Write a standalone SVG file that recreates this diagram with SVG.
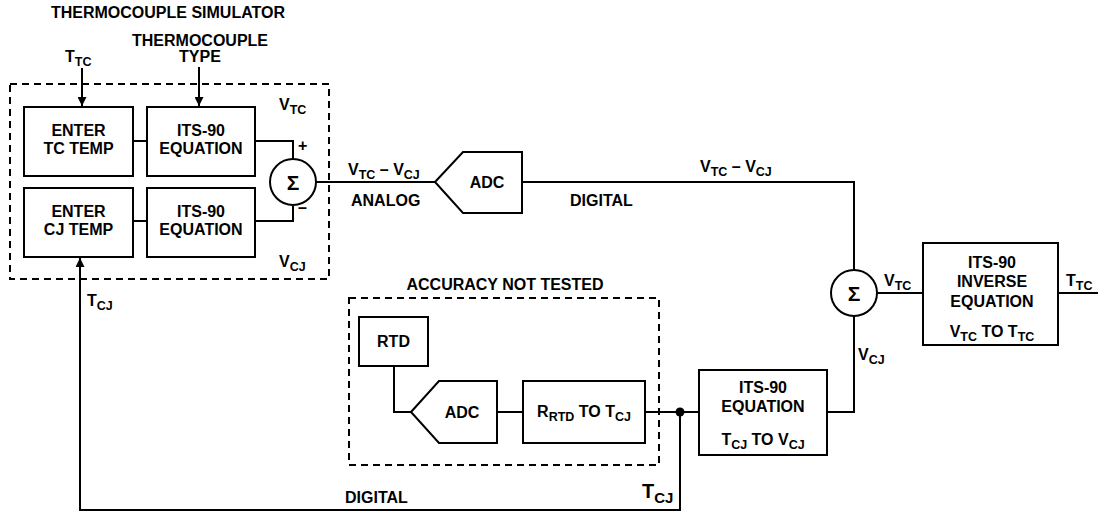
<svg xmlns="http://www.w3.org/2000/svg" width="1098" height="513" viewBox="0 0 1098 513">
<style>
text{font-family:"Liberation Sans",Arial,sans-serif;font-weight:bold;font-size:16px;fill:#000}
.c{text-anchor:middle}
.s{font-size:12.5px}
.box{fill:#fff;stroke:#000;stroke-width:2}
.dash{fill:none;stroke:#000;stroke-width:2;stroke-dasharray:7 5}
.w{fill:none;stroke:#000;stroke-width:2}
.sig{font-size:21px}
</style>
<defs>
<marker id="ah" viewBox="0 0 10 10" refX="10" refY="5" markerWidth="10" markerHeight="9" markerUnits="userSpaceOnUse" orient="auto">
<path d="M0,0 L10,5 L0,10 z" fill="#000"/>
</marker>
</defs>

<g id="connectors">
<path class="w" d="M82,68 V106" marker-end="url(#ah)"/>
<path class="w" d="M199,67 V106" marker-end="url(#ah)"/>
<path class="w" d="M133,141 H147"/>
<path class="w" d="M133,221 H147"/>
<path class="w" d="M255,141 H293 V160"/>
<path class="w" d="M255,221 H293 V206"/>
<path class="w" d="M316,182 H435"/>
<path class="w" d="M522,182 H854 V270"/>
<path class="w" d="M877,293 H923"/>
<path class="w" d="M1058,293 H1098"/>
<path class="w" d="M854,316 V412 H827"/>
<path class="w" d="M394,366 V412 H411"/>
<path class="w" d="M497,412 H523"/>
<path class="w" d="M645,412 H699"/>
<path class="w" d="M680,412 V510 H80 V258" marker-end="url(#ah)"/>
<circle cx="680" cy="412" r="4.5" fill="#000"/>
</g>

<g id="sim-frame">
<rect class="dash" x="10" y="84" width="319" height="195"/>
<text class="c" x="168" y="18">THERMOCOUPLE SIMULATOR</text>
<text class="c" x="200" y="46">THERMOCOUPLE</text>
<text class="c" x="200" y="62">TYPE</text>
<text x="65" y="62">T<tspan class="s" dy="4">TC</tspan></text>
<text x="279" y="110">V<tspan class="s" dy="4">TC</tspan></text>
<text x="279" y="267">V<tspan class="s" dy="4">CJ</tspan></text>
<text x="298" y="151">+</text>
<text x="298" y="213">–</text>
</g>

<g id="enter-tc">
<rect class="box" x="24" y="107" width="109" height="69"/>
<text class="c" x="78.5" y="136">ENTER</text>
<text class="c" x="78.5" y="154">TC TEMP</text>
</g>
<g id="its90-tc">
<rect class="box" x="147" y="107" width="108" height="69"/>
<text class="c" x="201" y="136">ITS-90</text>
<text class="c" x="201" y="154">EQUATION</text>
</g>
<g id="enter-cj">
<rect class="box" x="24" y="188" width="109" height="69"/>
<text class="c" x="78.5" y="217">ENTER</text>
<text class="c" x="78.5" y="235">CJ TEMP</text>
</g>
<g id="its90-cj">
<rect class="box" x="147" y="188" width="108" height="69"/>
<text class="c" x="201" y="217">ITS-90</text>
<text class="c" x="201" y="235">EQUATION</text>
</g>
<g id="sum1">
<circle class="box" cx="293" cy="182" r="23"/>
<text class="c sig" x="293" y="190">Σ</text>
</g>

<g id="labels-analog">
<text x="348" y="175">V<tspan class="s" dy="4">TC</tspan><tspan dy="-4"> – V</tspan><tspan class="s" dy="4">CJ</tspan></text>
<text x="351" y="206">ANALOG</text>
<text x="570" y="206">DIGITAL</text>
<text x="700" y="172">V<tspan class="s" dy="4">TC</tspan><tspan dy="-4"> – V</tspan><tspan class="s" dy="4">CJ</tspan></text>
</g>

<g id="adc1">
<polygon class="box" points="435,182 463,152 522,152 522,213 463,213"/>
<text class="c" x="487" y="188">ADC</text>
</g>

<g id="sum2">
<circle class="box" cx="854" cy="293" r="23"/>
<text class="c sig" x="854" y="301">Σ</text>
<text x="884" y="286">V<tspan class="s" dy="4">TC</tspan></text>
<text x="858" y="360">V<tspan class="s" dy="4">CJ</tspan></text>
</g>

<g id="inverse">
<rect class="box" x="923" y="243" width="135" height="102"/>
<text class="c" x="992" y="268">ITS-90</text>
<text class="c" x="992" y="287">INVERSE</text>
<text class="c" x="992" y="307">EQUATION</text>
<text class="c" x="992" y="337">V<tspan class="s" dy="4">TC</tspan><tspan dy="-4"> TO T</tspan><tspan class="s" dy="4">TC</tspan></text>
<text x="1066" y="286">T<tspan class="s" dy="4">TC</tspan></text>
</g>

<g id="accuracy-frame">
<rect class="dash" x="349" y="298" width="310" height="167"/>
<text class="c" x="505" y="290">ACCURACY NOT TESTED</text>
</g>
<g id="rtd">
<rect class="box" x="359" y="317" width="69" height="49"/>
<text class="c" x="393.5" y="347">RTD</text>
</g>
<g id="adc2">
<polygon class="box" points="411,412 439,381 497,381 497,443 439,443"/>
<text class="c" x="462" y="418">ADC</text>
</g>
<g id="rrtd">
<rect class="box" x="523" y="381" width="122" height="62"/>
<text class="c" x="584" y="417">R<tspan class="s" dy="4">RTD</tspan><tspan dy="-4"> TO T</tspan><tspan class="s" dy="4">CJ</tspan></text>
</g>
<g id="its90-eq">
<rect class="box" x="699" y="370" width="128" height="85"/>
<text class="c" x="763" y="393">ITS-90</text>
<text class="c" x="763" y="412">EQUATION</text>
<text class="c" x="763" y="445">T<tspan class="s" dy="4">CJ</tspan><tspan dy="-4"> TO V</tspan><tspan class="s" dy="4">CJ</tspan></text>
</g>

<g id="feedback-labels">
<text x="87" y="306">T<tspan class="s" dy="4">CJ</tspan></text>
<text x="345" y="503">DIGITAL</text>
<text x="642" y="498" style="font-size:20px">T<tspan style="font-size:15px" dy="5">CJ</tspan></text>
</g>
</svg>
